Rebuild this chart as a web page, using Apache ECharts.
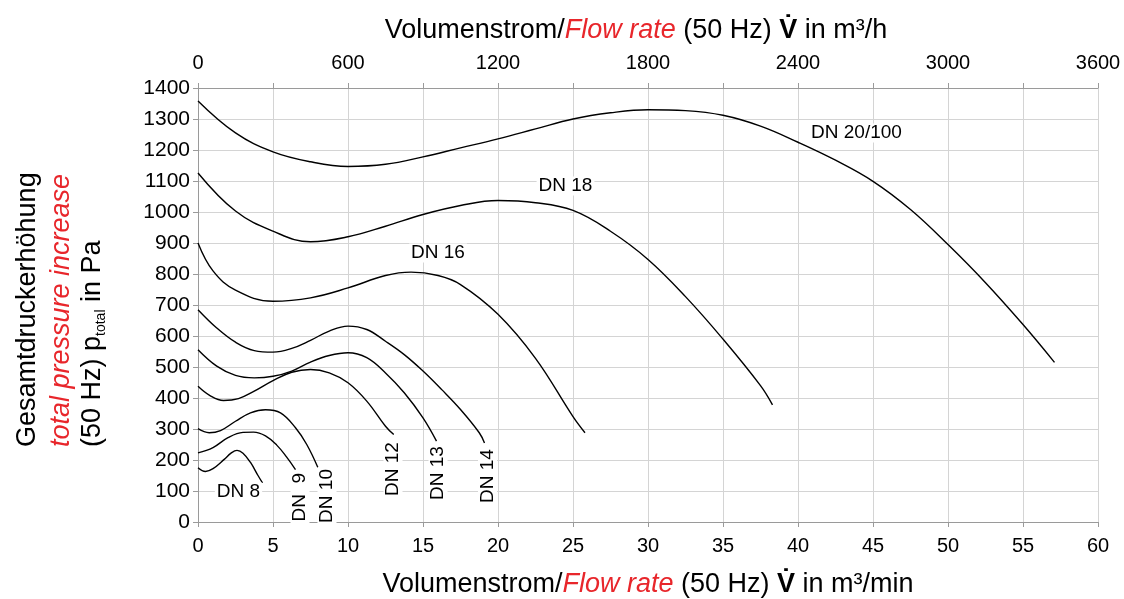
<!DOCTYPE html>
<html>
<head>
<meta charset="utf-8">
<script src="https://cdn.jsdelivr.net/npm/echarts@6/dist/echarts.min.js"></script>
<style>
html,body{margin:0;padding:0;background:#fff;}
#chart{width:1124px;height:599px;}
</style>
</head>
<body>
<div id="chart"></div>
<script>
// ---- data (x in m³/min, y in Pa) ----
var dn20 = [[0,1358],[2.5,1255],[5,1194],[7.5,1162],[10,1147],[12.5,1154],[15,1178],[17.5,1207],[20,1236],[22.5,1268],[25,1300],[27.5,1320],[30,1330],[32.5,1327],[35,1312],[37.5,1277],[40,1225],[42.5,1167],[45,1099],[47.5,1008],[50,895],[52.5,772],[55,637],[57.1,515]];
var dn18 = [[0,1126],[2.5,1003],[5,938],[7.5,904],[10,920],[12.5,954],[15,992],[17.5,1021],[20,1037],[22.5,1030],[25,1005],[27.5,938],[30,847],[32.5,727],[35,590],[37.5,440],[38.3,378]];
var dn16 = [[0,900],[1,810],[2.5,748],[5,712],[7.5,723],[10,755],[12.5,795],[14.2,806],[16,795],[17.5,766],[20,670],[22.5,528],[25,340],[25.8,288]];
var dn14 = [[0,685],[1.25,626],[2.5,580],[3.75,553],[5,548],[6.25,560],[7.5,586],[8.75,616],[10,632],[11.25,621],[12.5,583],[13.75,540],[15,487],[16.25,427],[17.5,363],[18.75,288],[19.1,255]];
var dn13 = [[0,556],[1.25,503],[2.5,473],[3.75,465],[5,470],[6.25,487],[7.5,516],[8.75,537],[10,546],[11.25,530],[12.5,481],[13.75,417],[15,336],[15.9,261]];
var dn12 = [[0,438],[0.8,408],[1.7,392],[2.7,398],[3.75,422],[5,456],[6.25,483],[7.5,492],[8.75,481],[10,449],[11.25,390],[12.5,309],[13.05,282]];
var dn10 = [[0,301],[0.75,288],[1.5,295],[2.5,325],[3.5,352],[4.5,362],[5.5,352],[6.5,304],[7.25,250],[8.0,175]];
var dn9  = [[0,223],[1,240],[2,272],[3,289],[3.7,290],[4.5,278],[5.25,248],[5.9,210],[6.5,169]];
var dn8  = [[0,175],[0.5,163],[1,172],[1.75,202],[2.2,222],[2.6,231],[3.0,222],[3.5,192],[4.0,150],[4.3,126]];

var curveNames = ['DN 20/100','DN 18','DN 16','DN 14','DN 13','DN 12','DN 10','DN 9','DN 8'];
var curves = [dn20, dn18, dn16, dn14, dn13, dn12, dn10, dn9, dn8];

var labelTexts  = ['DN 8','DN  9','DN 10','DN 12','DN 13','DN 14','DN 16','DN 18','DN 20/100'];
var labelX      = [2.7, 6.8, 8.6, 13.0, 16.0, 19.3, 16.0, 24.5, 43.9];
var labelY      = [97, 80, 84, 171, 158, 148, 868, 1084, 1255];
var labelRotate = [0, 90, 90, 90, 90, 90, 0, 0, 0];

var yTicks = [0,100,200,300,400,500,600,700,800,900,1000,1100,1200,1300,1400];
var xTicksMin = [0,5,10,15,20,25,30,35,40,45,50,55,60];
var xTicksHour = [0,600,1200,1800,2400,3000,3600];

// ---- chart ----
var FONT = 'Liberation Sans, Arial, sans-serif';
var chart = echarts.init(document.getElementById('chart'), null, {renderer:'canvas'});

var series = curves.map(function(c, i){
  return {
    name: curveNames[i], type:'line', data:c, smooth:0.4, symbol:'none',
    xAxisIndex:0, yAxisIndex:0,
    lineStyle:{color:'#000', width:1.4}, silent:true, z:3
  };
});
series.push({
  type:'scatter', xAxisIndex:0, yAxisIndex:0, symbolSize:1, silent:true, z:4,
  itemStyle:{opacity:0},
  data: labelTexts.map(function(t,i){
    return {name:t, value:[labelX[i], labelY[i]], label:{rotate:labelRotate[i]}};
  }),
  label:{show:true, position:'inside', formatter:function(p){return p.name;},
         color:'#000', opacity:1, fontSize:19, fontFamily:FONT,
         textBorderWidth:0, backgroundColor:'#fff', padding:[0,2]}
});

var TS = 27;
var titleRich = {
  a:{fontSize:TS, fontFamily:FONT, color:'#000'},
  b:{fontSize:TS, fontFamily:FONT, color:'#e8262b', fontStyle:'italic'},
  v:{fontSize:TS, fontFamily:FONT, color:'#000', fontWeight:'bold'}
};

var option = {
  backgroundColor:'#fff',
  animation:false,
  grid:{left:198, right:26, top:88, bottom:77, containLabel:false, outerBoundsMode:'none'},
  xAxis:[{
    type:'value', min:0, max:60, interval:5, position:'bottom',
    axisLine:{lineStyle:{color:'#9a9a9a', width:1}},
    axisTick:{show:true, length:5, lineStyle:{color:'#9a9a9a'}},
    axisLabel:{color:'#000', fontSize:20, fontFamily:FONT, margin:14,
      formatter:function(v){ return xTicksMin.indexOf(v) >= 0 ? String(v) : ''; }},
    splitLine:{show:true, lineStyle:{color:'#d4d4d4', width:1}},
    name:'{a|Volumenstrom/}{b|Flow rate}{a| (50 Hz) }{v|V̇}{a| in m³/min}',
    nameLocation:'middle', nameGap:49,
    nameTextStyle:{rich:titleRich}
  },{
    type:'value', min:0, max:3600, interval:300, position:'top',
    axisLine:{lineStyle:{color:'#9a9a9a', width:1}},
    axisTick:{show:true, length:5, lineStyle:{color:'#9a9a9a'}},
    axisLabel:{color:'#000', fontSize:20, fontFamily:FONT, margin:15,
      formatter:function(v){ return xTicksHour.indexOf(v) >= 0 ? String(v) : ''; }},
    splitLine:{show:false},
    name:'{a|Volumenstrom/}{b|Flow rate}{a| (50 Hz) }{v|V̇}{a| in m³/h}',
    nameLocation:'middle', nameGap:44,
    nameTextStyle:{rich:titleRich, padding:[0,24,0,0]}
  }],
  yAxis:[{
    type:'value', min:0, max:1400, interval:100,
    axisLine:{show:true, lineStyle:{color:'#9a9a9a', width:1}},
    axisTick:{show:true, length:5, lineStyle:{color:'#9a9a9a'}},
    axisLabel:{color:'#000', fontSize:21, fontFamily:FONT, margin:8,
      formatter:function(v){ return yTicks.indexOf(v) >= 0 ? String(v) : ''; }},
    splitLine:{show:true, lineStyle:{color:'#d4d4d4', width:1}}
  }],
  graphic:[
    {type:'text', x:28, y:447, rotation:Math.PI/2,
     style:{text:'Gesamtdruckerhöhung', font:TS+'px '+FONT, fill:'#000',
            textAlign:'left', align:'left', textVerticalAlign:'middle', verticalAlign:'middle'}},
    {type:'text', x:61, y:447, rotation:Math.PI/2,
     style:{text:'total pressure increase', font:'italic '+TS+'px '+FONT, fill:'#e8262b',
            textAlign:'left', align:'left', textVerticalAlign:'middle', verticalAlign:'middle'}},
    {type:'text', x:93, y:447, rotation:Math.PI/2,
     style:{text:'{a|(50 Hz) p}{s|total}{a| in Pa}',
            textAlign:'left', align:'left', textVerticalAlign:'middle', verticalAlign:'middle',
            rich:{
              a:{fontSize:TS, fontFamily:FONT, fill:'#000', color:'#000', verticalAlign:'middle'},
              s:{fontSize:14, fontFamily:FONT, fill:'#000', color:'#000', verticalAlign:'bottom', padding:[16,0,0,0]}
            }}}
  ],
  series: series
};
chart.setOption(option);
</script>
</body>
</html>
